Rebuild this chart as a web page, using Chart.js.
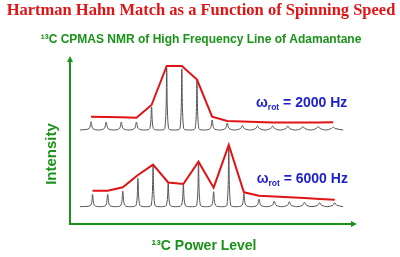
<!DOCTYPE html>
<html>
<head>
<meta charset="utf-8">
<script src="https://cdn.jsdelivr.net/npm/chart.js@4.4.0/dist/chart.umd.min.js"></script>
<style>
    html, body { margin: 0; padding: 0; background: #ffffff; }
    #wrap { width: 400px; height: 257px; }
</style>
</head>
<body>
<div id="wrap"><canvas id="hhChart"></canvas></div>
<script>
// power level steps where the spinning sidebands sit
const levels2000 = [1, 2, 3, 4, 5, 6, 7, 8, 9, 10, 11, 12, 13, 14, 15, 16, 17];
const levels6000 = [1.1, 2.1, 3.1, 4.1, 5.1, 6.1, 7.1, 8.1, 9.1, 10.1, 11.1, 12.1, 13.1, 14.1, 15.1, 16.1, 17.1];

// peak heights above each trace's own baseline
const peaks2000 = [8.3, 8, 8, 8, 23, 61.7, 61, 50, 10, 7, 4.5, 4, 4, 4, 3.5, 3.5, 3];
const envelope2000 = [13.3, 13, 12.7, 12.3, 25, 64, 64, 50.5, 13.3, 9, 8.5, 8, 7.5, 7.5, 7.5, 7.5, 7.7];
const peaks6000 = [12.4, 12.4, 15.7, 28.4, 41, 23.4, 21.7, 43.4, 15, 60, 13, 7.5, 5.5, 5, 4.5, 4, 4];
const envelope6000 = [16, 16, 19.4, 31.7, 42, 24.2, 22.7, 45, 19, 61.7, 14.4, 11, 10.2, 9.4, 8.6, 7.8, 7];

// baselines of the two stacked traces and the sweep they cover
const baseline2000 = 94;
const baseline6000 = 17.3;
const sweep2000 = [0.27, 17.65];
const sweep6000 = [0.27, 17.65];

const spinSpeeds = [2000, 6000];

const red = '#e01414';
const green = '#1a931a';
const blue = '#1e22c8';
const gray = '#555555';

// build the spectrum line: valleys between peaks, a small foot, then the spike
function trace(levels, heights, base, sweep) {
    const pts = [{x: sweep[0], y: base}];
    levels.forEach((x, i) => {
        if (i > 0) pts.push({x: (levels[i - 1] + x) / 2, y: base});
        pts.push({x: x - 0.12, y: base + 1.5});
        pts.push({x: x, y: base + heights[i]});
        pts.push({x: x + 0.12, y: base + 1.5});
    });
    pts.push({x: sweep[1], y: base});
    return pts;
}

function envelope(levels, heights, base) {
    return levels.map((x, i) => ({x: x, y: base + heights[i]}));
}

// arrows, axis names and the spinning speed labels
const decor = {
    id: 'decor',
    afterDraw(chart) {
        const ctx = chart.ctx;
        const area = chart.chartArea;
        const xs = chart.scales.x;
        const ys = chart.scales.y;
        ctx.save();

        // arrow heads
        ctx.fillStyle = green;
        ctx.beginPath();
        ctx.moveTo(area.left, area.top - 5);
        ctx.lineTo(area.left - 3, area.top + 1);
        ctx.lineTo(area.left + 3, area.top + 1);
        ctx.closePath();
        ctx.fill();
        ctx.beginPath();
        ctx.moveTo(area.right + 5, area.bottom);
        ctx.lineTo(area.right - 1, area.bottom - 3);
        ctx.lineTo(area.right - 1, area.bottom + 3);
        ctx.closePath();
        ctx.fill();

        // axis names
        ctx.font = "bold 15px 'Liberation Sans', Arial, sans-serif";
        ctx.textAlign = 'center';
        ctx.textBaseline = 'alphabetic';
        ctx.save();
        ctx.translate(55.5, 154);
        ctx.rotate(-Math.PI / 2);
        ctx.fillText('Intensity', 0, 0);
        ctx.restore();

        ctx.font = "bold 14px 'Liberation Sans', Arial, sans-serif";
        ctx.fillText('¹³C Power Level', 204, 249.5);

        // omega_rot labels
        const labelSpots = [[11.9, 117.3], [11.94, 41.3]];
        ctx.fillStyle = blue;
        ctx.textAlign = 'left';
        spinSpeeds.forEach((speed, i) => {
            let px = xs.getPixelForValue(labelSpots[i][0]);
            const py = ys.getPixelForValue(labelSpots[i][1]);
            ctx.font = "bold 14px 'Liberation Sans', Arial, sans-serif";
            ctx.fillText('ω', px, py);
            px += ctx.measureText('ω').width;
            ctx.font = "bold 8.5px 'Liberation Sans', Arial, sans-serif";
            ctx.fillText('rot', px, py + 3);
            px += ctx.measureText('rot').width;
            ctx.font = "bold 14px 'Liberation Sans', Arial, sans-serif";
            ctx.fillText(' = ' + speed + ' Hz', px, py);
        });
        ctx.restore();
    }
};

const ctx = document.getElementById('hhChart').getContext('2d');
new Chart(ctx, {
    type: 'line',
    data: {
        datasets: [
            {data: envelope(levels2000, envelope2000, baseline2000), borderColor: red, borderWidth: 2, pointRadius: 0, tension: 0, yAxisID: 'y'},
            {data: envelope(levels6000, envelope6000, baseline6000), borderColor: red, borderWidth: 2, pointRadius: 0, tension: 0, yAxisID: 'y'},
            {data: trace(levels2000, peaks2000, baseline2000, sweep2000), borderColor: gray, borderWidth: 1, pointRadius: 0, tension: 0.3, yAxisID: 'y'},
            {data: trace(levels6000, peaks6000, baseline6000, sweep6000), borderColor: gray, borderWidth: 1, pointRadius: 0, tension: 0.3, yAxisID: 'y'}
        ]
    },
    options: {
        responsive: true,
        maintainAspectRatio: false,
        animation: false,
        events: [],
        layout: {padding: {left: 2, right: 0, top: 0, bottom: 0}},
        scales: {
            x: {
                type: 'linear',
                min: -0.387,
                max: 18.239,
                ticks: {display: false},
                grid: {display: false, drawTicks: false},
                border: {display: true, color: green, width: 2},
                afterFit: scale => { scale.height = 33; }
            },
            y: {
                min: 0,
                max: 163,
                ticks: {display: false},
                grid: {display: false, drawTicks: false},
                border: {display: true, color: green, width: 2},
                afterFit: scale => { scale.width = 68; }
            },
            yRight: {
                position: 'right',
                ticks: {display: false},
                grid: {display: false, drawTicks: false},
                border: {display: false},
                afterFit: scale => { scale.width = 48; }
            }
        },
        plugins: {
            legend: {display: false},
            tooltip: {enabled: false},
            title: {
                display: true,
                text: 'Hartman Hahn Match as a Function of Spinning Speed',
                color: red,
                font: {family: "'Liberation Serif', 'Times New Roman', serif", size: 16.5, weight: 'bold'},
                padding: {top: 1, bottom: 6}
            },
            subtitle: {
                display: true,
                text: '¹³C CPMAS NMR of High Frequency Line of Adamantane',
                color: green,
                font: {family: "'Liberation Sans', Arial, sans-serif", size: 12, weight: 'bold'},
                padding: {top: 5.5, bottom: 14.3}
            }
        }
    },
    plugins: [decor]
});
</script>
</body>
</html>
